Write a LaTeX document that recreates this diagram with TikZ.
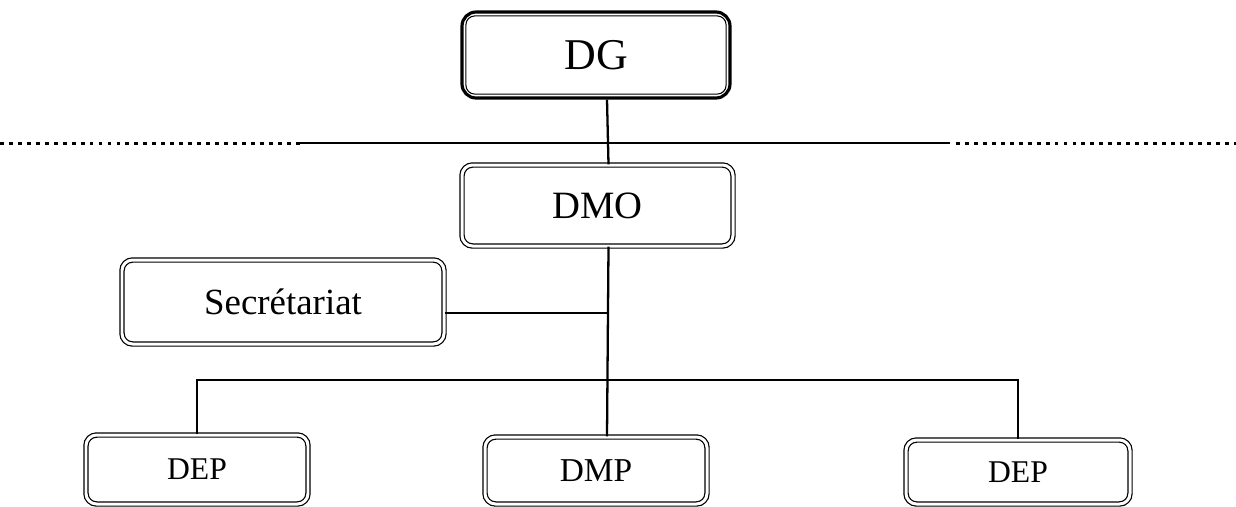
\documentclass[tikz,border=0pt]{standalone}
\usepackage{fontspec}
\setmainfont{Liberation Serif}
\begin{document}
\begin{tikzpicture}[
    box/.style={rectangle, draw, double, double distance=1.7pt, line width=0.7pt, rounded corners=6pt, align=center},
    topbox/.style={rectangle, draw, line width=1.8pt, rounded corners=8pt, align=center, font=\fontsize{25}{30}\selectfont},
    link/.style={line width=1.3pt},
    dots/.style={line width=1.7pt, dash pattern=on 2.2pt off 2.9pt}
]
    \useasboundingbox (0,0) rectangle (24.72,-10.12);

    \node[topbox, minimum width=5.36cm, minimum height=1.72cm] (dg) at (11.92,-1.10) {DG};
    \draw[line width=0.6pt, rounded corners=5pt] ([shift={(0.11,-0.11)}]dg.north west) rectangle ([shift={(-0.11,0.11)}]dg.south east);

    \node[box, minimum width=5.42cm, minimum height=1.62cm, font=\fontsize{22}{26}\selectfont] (dmo) at (11.95,-4.11) {DMO};
    \node[box, minimum width=6.44cm, minimum height=1.68cm, font=\fontsize{21}{25}\selectfont] (sec) at (5.66,-6.04) {Secrétariat};
    \node[box, minimum width=4.44cm, minimum height=1.38cm, font=\fontsize{18}{22}\selectfont] (depl) at (3.94,-9.39) {DEP};
    \node[box, minimum width=4.44cm, minimum height=1.34cm, font=\fontsize{19}{23}\selectfont] (dmp) at (11.92,-9.41) {DMP};
    \node[box, minimum width=4.48cm, minimum height=1.28cm, font=\fontsize{18}{22}\selectfont] (depr) at (20.36,-9.44) {DEP};

    % separation line
    \coordinate (sepa) at (0,-2.86);
    \coordinate (sepb) at (6.0,-2.86);
    \coordinate (sepc) at (19.0,-2.86);
    \coordinate (sepd) at (24.72,-2.86);
    \draw[dots] (sepa) -- (sepb);
    \draw[link] (sepb) -- (sepc);
    \draw[dots] ([xshift=0.12cm]sepc) -- (sepd);

    % links
    \coordinate (trunk) at ([xshift=0.22cm]dmo.south);
    \coordinate (bus) at (0,-7.6);
    \draw[link] ([xshift=0.22cm]dg.south) -- ([xshift=0.22cm]dmo.north);
    \draw[link] (trunk) -- ([xshift=0.22cm]dmp.north);
    \draw[link] ([yshift=-0.22cm]sec.east) -- ([yshift=-0.22cm]sec.east -| trunk);
    \draw[link] (depl.north) -- (depl.north |- bus) -- (depr.north |- bus) -- (depr.north);
\end{tikzpicture}
\end{document}
